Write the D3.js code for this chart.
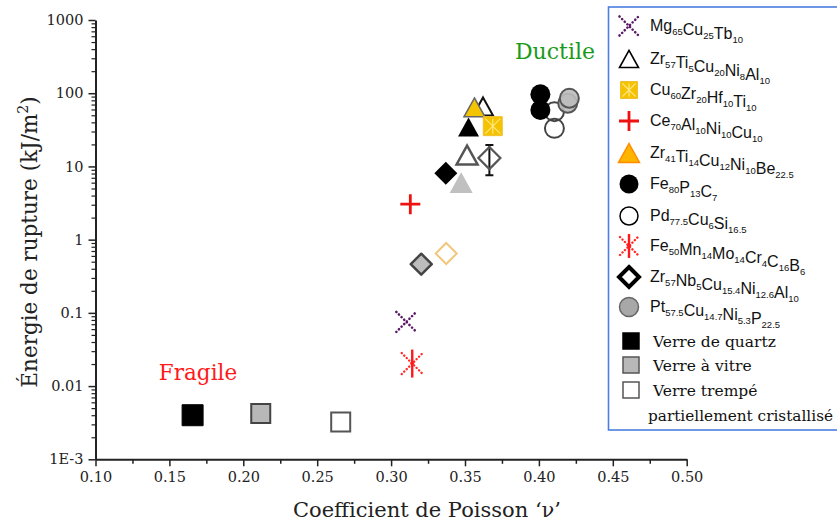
<!DOCTYPE html>
<html><head><meta charset="utf-8">
<script src="https://cdn.jsdelivr.net/npm/d3@7"></script>
<style>
body{margin:0;background:#fff;}
svg{display:block;}
</style></head>
<body>
<svg id="chart" width="837" height="528"></svg>
<script>
// ---------- DATA ----------
const xTicks = [0.10,0.15,0.20,0.25,0.30,0.35,0.40,0.45,0.50];
const yTicks = [0.001,0.01,0.1,1,10,100,1000];
const yTickLabels = ["1E-3","0.01","0.1","1","10","100","1000"];

const mgX = [0.3103], mgY = [0.0753];
const zrTiX = [0.3622], zrTiY = [66];
const zrTiGrayX = [0.3514], zrTiGrayY = [14.3];
const cuZrX = [0.3688], cuZrY = [35.5];
const ceX = [0.3130], ceY = [3.05];
const zrBeX = [0.3564], zrBeY = [64];
const blackTriX = [0.3524], blackTriY = [34.5];
const grayTriX = [0.3474], grayTriY = [6.0];
const fe80X = [0.4010, 0.4010], fe80Y = [96.6, 58.9];
const pdX = [0.4105, 0.4105], pdY = [56, 33.1];
const fe50X = [0.3143], fe50Y = [0.0203];
const zrNbX = [0.3665], zrNbY = [13], zrNbLo = [7.6], zrNbHi = [19.6];
const ptX = [0.4195, 0.4206], ptY = [72.8, 85.2];
const blackDiaX = [0.3370], blackDiaY = [8.04];
const grayDiaX = [0.3204], grayDiaY = [0.462];
const orangeDiaX = [0.3373], orangeDiaY = [0.647];
const quartzX = [0.1657], quartzY = [0.0040];
const vitreX = [0.2118], vitreY = [0.00422];
const trempeX = [0.2659], trempeY = [0.00324];

const legendAlloys = [
  [["Mg","65"],["Cu","25"],["Tb","10"]],
  [["Zr","57"],["Ti","5"],["Cu","20"],["Ni","8"],["Al","10"]],
  [["Cu","60"],["Zr","20"],["Hf","10"],["Ti","10"]],
  [["Ce","70"],["Al","10"],["Ni","10"],["Cu","10"]],
  [["Zr","41"],["Ti","14"],["Cu","12"],["Ni","10"],["Be","22.5"]],
  [["Fe","80"],["P","13"],["C","7"]],
  [["Pd","77.5"],["Cu","6"],["Si","16.5"]],
  [["Fe","50"],["Mn","14"],["Mo","14"],["Cr","4"],["C","16"],["B","6"]],
  [["Zr","57"],["Nb","5"],["Cu","15.4"],["Ni","12.6"],["Al","10"]],
  [["Pt","57.5"],["Cu","14.7"],["Ni","5.3"],["P","22.5"]]
];
const legendGlass = ["Verre de quartz","Verre à vitre","Verre trempé","partiellement cristallisé"];
const xTitle = "Coefficient de Poisson ‘ν’";
const yTitle = "Énergie de rupture (kJ/m";
const ductileLabel = "Ductile", fragileLabel = "Fragile";

// ---------- SETUP ----------
const svg = d3.select("#chart");
const x = d3.scaleLinear().domain([0.10,0.50]).range([95.5,686.7]);
const y = d3.scaleLog().domain([0.001,1000]).range([459.3,20]);
const serif = "'DejaVu Serif', serif";
const sans = "'Liberation Sans', Arial, sans-serif";

// ---------- shapes ----------
function tri(s){const h=s*0.9;return `M0,${-h/2}L${s/2},${h/2}L${-s/2},${h/2}Z`;}
function dia(r){return `M0,${-r}L${r},0L0,${r}L${-r},0Z`;}
function sq(s){return `M${-s/2},${-s/2}h${s}v${s}h${-s}Z`;}
function circ(r){return `M${r},0A${r},${r} 0 1,1 ${-r},0A${r},${r} 0 1,1 ${r},0Z`;}

function drawX(g,s){ // dotted X
  g.append("path").attr("d",`M${-s},${-s}L${s},${s}M${-s},${s}L${s},${-s}`)
   .attr("stroke","#5b1a66").attr("stroke-width",2.6).attr("stroke-dasharray","0.1,3.6")
   .attr("stroke-linecap","round").attr("fill","none");
}
function drawAst(g,s){
  g.append("path").attr("d",`M${-s*0.75},${-s*0.75}L${s*0.75},${s*0.75}M${-s*0.75},${s*0.75}L${s*0.75},${-s*0.75}`)
   .attr("stroke","#ff2a2a").attr("stroke-width",2.4).attr("stroke-dasharray","0.1,3.4")
   .attr("stroke-linecap","round").attr("fill","none");
  g.append("path").attr("d",`M0,${-s}L0,${s}`).attr("stroke","#ff1a1a").attr("stroke-width",2.4);
  g.append("path").attr("d",`M-2.5,-1L2.5,-1L0,3Z`).attr("fill","#ff1a1a");
}
function drawPlus(g,s){
  g.append("path").attr("d",`M${-s},0L${s},0M0,${-s}L0,${s}`).attr("stroke","#ee1111").attr("stroke-width",2.8).attr("fill","none");
}
function drawYelSq(g,s){
  g.append("path").attr("d",sq(s)).attr("fill","#f5c200").attr("stroke","#f0c030").attr("stroke-width",1);
  const k=s/2-2;
  g.append("path").attr("d",`M${-k},${-k}L${k},${k}M${-k},${k}L${k},${-k}M0,${-k}L0,${k}`)
   .attr("stroke","#ffe680").attr("stroke-width",1.2).attr("fill","none");
}

function pts(xs,ys){return xs.map((v,i)=>[x(v),y(ys[i])]);}
function place(xs,ys,fn){
  pts(xs,ys).forEach(([px,py])=>{const g=svg.append("g").attr("transform",`translate(${px},${py})`);fn(g);});
}

// ---------- AXES ----------
const xAxis = d3.axisBottom(x).tickValues(xTicks).tickFormat(d3.format(".2f")).tickSize(7).tickSizeOuter(0);
const gx = svg.append("g").attr("transform","translate(0,459.3)").call(xAxis);
gx.select(".domain").attr("stroke","#222").attr("stroke-width",2);
gx.selectAll(".tick line").attr("stroke","#222").attr("stroke-width",1.5);
gx.selectAll(".tick text").attr("font-family",serif).attr("font-size",14.5).attr("fill","#222").attr("dy","0.9em");
const xMinor = d3.axisBottom(x).tickValues(xTicks.slice(0,-1).map(v=>v+0.025)).tickSize(4.5).tickFormat("");
const gxm = svg.append("g").attr("transform","translate(0,459.3)").call(xMinor);
gxm.select(".domain").remove();
gxm.selectAll(".tick line").attr("stroke","#222").attr("stroke-width",1.5);

const yAxis = d3.axisLeft(y).tickValues(yTicks).tickFormat((d,i)=>yTickLabels[i]).tickSize(7).tickSizeOuter(0);
const gy = svg.append("g").attr("transform","translate(95.5,0)").call(yAxis);
gy.select(".domain").attr("stroke","#222").attr("stroke-width",2);
gy.selectAll(".tick line").attr("stroke","#222").attr("stroke-width",1.5);
gy.selectAll(".tick text").attr("font-family",serif).attr("font-size",14.5).attr("fill","#222").attr("x",-12);
const yMinorVals=[];
for(let e=-3;e<3;e++){for(let m=2;m<10;m++){yMinorVals.push(m*Math.pow(10,e));}}
const yMinor = d3.axisLeft(y).tickValues(yMinorVals).tickSize(4).tickFormat("");
const gym = svg.append("g").attr("transform","translate(95.5,0)").call(yMinor);
gym.select(".domain").remove();
gym.selectAll(".tick line").attr("stroke","#222").attr("stroke-width",1.2);

// axis titles
svg.append("text").attr("x",427).attr("y",517).attr("text-anchor","middle")
  .attr("font-family",serif).attr("font-size",21).attr("fill","#222").text(xTitle);
const yt = svg.append("text").attr("transform","translate(37,242) rotate(-90)").attr("text-anchor","middle")
  .attr("font-family",serif).attr("font-size",21.5).attr("fill","#222");
yt.append("tspan").text(yTitle);
yt.append("tspan").attr("dy",-9).attr("font-size",14).text("2");
yt.append("tspan").attr("dy",9).text(")");

// annotations
svg.append("text").attr("x",555).attr("y",59).attr("text-anchor","middle").attr("font-family",serif)
  .attr("font-size",22).attr("fill","#1a9a1a").text(ductileLabel);
svg.append("text").attr("x",198).attr("y",380).attr("text-anchor","middle").attr("font-family",serif)
  .attr("font-size",21.5).attr("fill","#ff1a1a").text(fragileLabel);

// ---------- MARKS ----------
place(quartzX,quartzY,g=>g.append("path").attr("d",sq(21)).attr("fill","#000").attr("stroke","#000"));
place(vitreX,vitreY,g=>g.append("path").attr("d",sq(19)).attr("fill","#b8b8b8").attr("stroke","#444").attr("stroke-width",2));
place(trempeX,trempeY,g=>g.append("path").attr("d",sq(19)).attr("fill","#fff").attr("stroke","#555").attr("stroke-width",2));
place(mgX,mgY,g=>drawX(g,10));
place(fe50X,fe50Y,g=>drawAst(g,14));
place(grayDiaX,grayDiaY,g=>g.append("path").attr("d",dia(10.5)).attr("fill","#bdbdbd").attr("stroke","#444").attr("stroke-width",2.5).attr("stroke-linejoin","round"));
place(orangeDiaX,orangeDiaY,g=>g.append("path").attr("d",dia(10.5)).attr("fill","#fff").attr("stroke","#f3c77b").attr("stroke-width",2));
place(ceX,ceY,g=>drawPlus(g,10));
place(grayTriX,grayTriY,g=>g.append("path").attr("d",tri(23)).attr("fill","#c0c0c0"));
place(blackDiaX,blackDiaY,g=>g.append("path").attr("d",dia(11.5)).attr("fill","#000"));
place(zrTiGrayX,zrTiGrayY,g=>g.append("path").attr("d",tri(21)).attr("fill","none").attr("stroke","#555").attr("stroke-width",2.5));
// error bar + open diamond
pts(zrNbX,zrNbY).forEach(([px,py],i)=>{
  const g=svg.append("g");
  g.append("path").attr("d",`M${px},${y(zrNbLo[i])}L${px},${y(zrNbHi[i])}M${px-4},${y(zrNbLo[i])}h8M${px-4},${y(zrNbHi[i])}h8`)
    .attr("stroke","#111").attr("stroke-width",2);
  g.append("path").attr("transform",`translate(${px},${py})`).attr("d",dia(11)).attr("fill","none").attr("stroke","#555").attr("stroke-width",2.2);
});
place(blackTriX,blackTriY,g=>g.append("path").attr("d",tri(21)).attr("fill","#000"));
place(zrTiX,zrTiY,g=>g.append("path").attr("d",tri(20)).attr("fill","none").attr("stroke","#111").attr("stroke-width",2));
place(zrBeX,zrBeY,g=>g.append("path").attr("d",tri(21)).attr("fill","#f5c400").attr("stroke","#666").attr("stroke-width",1.5));
place(cuZrX,cuZrY,g=>drawYelSq(g,19));
place(pdX,pdY,g=>g.append("path").attr("d",circ(9.5)).attr("fill","none").attr("stroke","#444").attr("stroke-width",2));
place(fe80X,fe80Y,g=>g.append("path").attr("d",circ(10)).attr("fill","#000"));
place(ptX,ptY,g=>g.append("path").attr("d",circ(9.5)).attr("fill","#bcbcbc").attr("fill-opacity",0.9).attr("stroke","#555").attr("stroke-width",2));

// ---------- LEGEND ----------
svg.append("rect").attr("x",608.5).attr("y",7).attr("width",240).attr("height",423)
  .attr("fill","#fff").attr("stroke","#4a7ee0").attr("stroke-width",1.6);
const rowY = [26,59,90,121,153,184,216,246,277,307];
const symX = 629;
const legSym = [
  g=>drawX(g,9.5),
  g=>g.append("path").attr("d",tri(19)).attr("fill","#fff").attr("stroke","#000").attr("stroke-width",1.6),
  g=>drawYelSq(g,17),
  g=>drawPlus(g,10),
  g=>g.append("path").attr("d",tri(21)).attr("fill","#ffb400").attr("stroke","#ff8c00").attr("stroke-width",1.5),
  g=>g.append("path").attr("d",circ(9.5)).attr("fill","#000"),
  g=>g.append("path").attr("d",circ(9)).attr("fill","#fff").attr("stroke","#000").attr("stroke-width",1.5),
  g=>drawAst(g,12),
  g=>g.append("path").attr("d",dia(10)).attr("fill","#fff").attr("stroke","#000").attr("stroke-width",4),
  g=>g.append("path").attr("d",circ(9.5)).attr("fill","#a8a8a8").attr("stroke","#666").attr("stroke-width",1.5)
];
legendAlloys.forEach((parts,i)=>{
  const g=svg.append("g").attr("transform",`translate(${symX},${rowY[i]})`);
  legSym[i](g);
  const t=svg.append("text").attr("x",650).attr("y",rowY[i]+5).attr("font-family",sans).attr("font-size",16).attr("fill","#111");
  parts.forEach(([el,sub])=>{
    t.append("tspan").attr("font-size",16).attr("dy",0).text(el);
    t.append("tspan").attr("font-size",9.5).attr("dy",4).text(sub);
    t.append("tspan").attr("font-size",1).attr("dy",-4).text("");
  });
});
const glassY=[341,365,390];
const glassFill=["#000","#b8b8b8","#fff"];
const glassStroke=["#000","#555","#555"];
glassY.forEach((gy0,i)=>{
  svg.append("path").attr("transform",`translate(${631},${gy0})`).attr("d",sq(16))
    .attr("fill",glassFill[i]).attr("stroke",glassStroke[i]).attr("stroke-width",1.5);
  svg.append("text").attr("x",653).attr("y",gy0+6).attr("font-family",serif).attr("font-size",15.5).attr("fill","#111").text(legendGlass[i]);
});
svg.append("text").attr("x",648).attr("y",421).attr("font-family",serif).attr("font-size",15.3).attr("fill","#111").text(legendGlass[3]);
</script>
</body></html>
